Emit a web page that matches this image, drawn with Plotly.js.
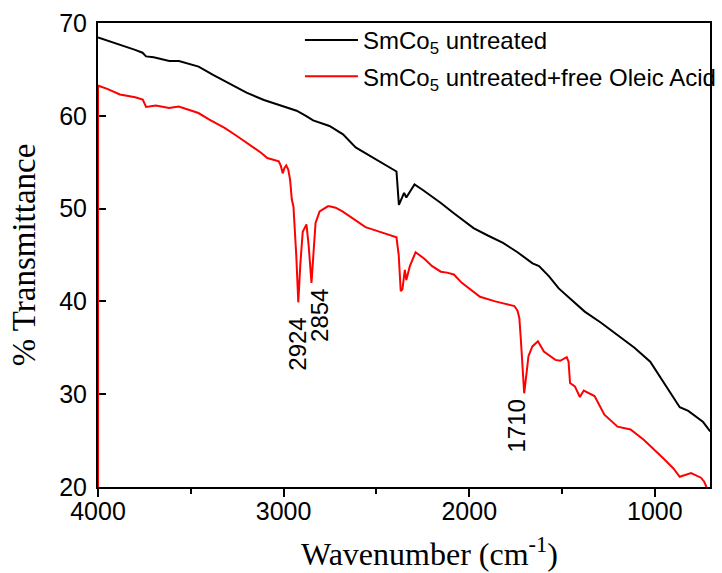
<!DOCTYPE html>
<html>
<head>
<meta charset="utf-8">
<script src="https://cdn.plot.ly/plotly-3.0.1.min.js"></script>
<style>html,body{margin:0;padding:0;background:#fff;}#chart{width:722px;height:573px;}</style>
</head>
<body>
<div id="chart"></div>
<script>
// SmCo5 untreated (black)
const untreatedX = [4000,3900,3800,3760,3741,3700,3616,3564,3458,3380,3283,3200,3106,3000,2930,2880,2841,2753,2680,2612,2560,2500,2440,2392,2379,2365,2351,2339,2295,2250,2200,2153,2083,2030,1977,1900,1818,1740,1659,1624,1570,1518,1466,1378,1290,1201,1110,1025,937,866,820,778,740,702];
const untreatedY = [68.45,67.8,67.1,66.8,66.4,66.3,65.9,65.9,65.3,64.4,63.35,62.5,61.7,61.0,60.55,60.0,59.5,58.9,58.0,56.6,56.0,55.3,54.6,54.0,50.4,51.0,51.7,51.2,52.6,52.0,51.3,50.6,49.5,48.7,47.9,47.1,46.3,45.3,44.1,43.8,42.7,41.4,40.5,38.9,37.7,36.4,35.0,33.5,30.85,28.6,28.2,27.6,27.0,26.0];

// SmCo5 untreated + free oleic acid (red)
const oleicX = [4000,4000,3950,3882,3800,3759,3741,3688,3617,3565,3512,3459,3400,3318,3250,3177,3120,3088,3026,3015,3005,2995,2986,2975,2965,2956,2947,2932,2921,2910,2897,2877,2865,2850,2838,2828,2806,2762,2753,2720,2683,2620,2559,2489,2440,2392,2380,2369,2360,2347,2339,2320,2289,2242,2200,2153,2120,2083,2040,2004,1942,1860,1783,1757,1740,1730,1722,1704,1690,1681,1660,1630,1598,1536,1510,1475,1465,1457,1431,1404,1383,1325,1272,1201,1131,1060,955,900,866,805,752,735,722];
const oleicY = [20,63.25,62.9,62.3,62.0,61.75,60.95,61.1,60.85,61.0,60.65,60.3,59.6,58.7,57.8,56.8,56.0,55.45,55.1,54.6,53.8,54.4,54.65,54.2,53.1,51.0,50.2,45,39.9,44,47.5,48.3,46,42.0,45.5,48.45,49.7,50.25,50.25,50.1,49.7,48.8,48.0,47.55,47.2,46.9,45,41.1,41.3,43.4,42.3,43.8,45.3,44.6,43.8,43.2,43.1,42.9,42.0,41.45,40.5,40.0,39.6,39.5,39.0,38.2,35.9,30.1,32.5,34.1,35.15,35.7,34.6,33.7,33.6,34.0,33.5,31.2,30.85,29.7,30.4,29.8,27.8,26.5,26.2,25.1,23.1,22.0,21.1,21.5,21.0,20.6,20.0];

const seriesNames = ['SmCo<sub>5</sub> untreated', 'SmCo<sub>5</sub> untreated+free Oleic Acid'];
const peakLabels = ['2924', '2854', '1710'];
const peakLabelX = [2930, 2806, 1744];
const peakLabelY = [35.4, 38.5, 26.6];
const xTitle = 'Wavenumber (cm<sup>-1</sup>)';
const yTitle = '% Transmittance';

const traces = [
  {x: untreatedX, y: untreatedY, name: seriesNames[0], type: 'scatter', mode: 'lines',
   line: {color: '#000000', width: 2}, legendgroup: 'a'},
  {x: oleicX, y: oleicY, name: seriesNames[1], type: 'scatter', mode: 'lines',
   line: {color: '#ff0000', width: 2}, legendgroup: 'b'}
];

const annotations = peakLabels.map((t, i) => ({
  x: peakLabelX[i], y: peakLabelY[i], xref: 'x', yref: 'y', text: t,
  showarrow: false, textangle: -90,
  font: {family: 'Liberation Sans, Arial, sans-serif', size: 24, color: '#000'}
}));
annotations.push({
  x: 0.541, y: 0, xref: 'paper', yref: 'paper', yanchor: 'top', yshift: -43,
  text: xTitle, showarrow: false,
  font: {family: 'Liberation Serif, Times New Roman, serif', size: 32, color: '#000'}
});

const layout = {
  width: 722, height: 573,
  margin: {l: 98, r: 1, t: 23, b: 86},
  paper_bgcolor: '#fff', plot_bgcolor: '#fff',
  font: {family: 'Liberation Sans, Arial, sans-serif', size: 24, color: '#000'},
  showlegend: true,
  legend: {x: 0.33, y: 1.011, xanchor: 'left', yanchor: 'top', bgcolor: 'rgba(0,0,0,0)',
           borderwidth: 0, itemwidth: 53, tracegroupgap: 2,
           font: {family: 'Liberation Sans, Arial, sans-serif', size: 24, color: '#000'}},
  xaxis: {
    range: [4000, 703], autorange: false,
    showgrid: false, zeroline: false,
    showline: true, linecolor: '#000', linewidth: 2, mirror: true,
    ticks: 'outside', ticklen: 8, tickwidth: 2, tickcolor: '#000',
    tickvals: [4000, 3000, 2000, 1000],
    minor: {tickvals: [3500, 2500, 1500], ticks: 'outside', ticklen: 5, tickwidth: 2, tickcolor: '#000'},
    tickfont: {family: 'Liberation Sans, Arial, sans-serif', size: 25, color: '#000'},
    ticklabelstandoff: -7,
    layer: 'below traces'
  },
  yaxis: {
    range: [20, 70], autorange: false,
    showgrid: false, zeroline: false,
    showline: true, linecolor: '#000', linewidth: 2, mirror: true,
    ticks: 'inside', ticklen: 8, tickwidth: 2, tickcolor: '#000',
    tickvals: [20, 30, 40, 50, 60, 70],
    tickfont: {family: 'Liberation Sans, Arial, sans-serif', size: 25, color: '#000'},
    ticklabelstandoff: 4,
    layer: 'below traces',
    title: {text: yTitle, standoff: 14,
            font: {family: 'Liberation Serif, Times New Roman, serif', size: 33, color: '#000'}}
  },
  annotations: annotations
};

Plotly.newPlot('chart', traces, layout, {displayModeBar: false, staticPlot: true});
</script>
</body>
</html>
